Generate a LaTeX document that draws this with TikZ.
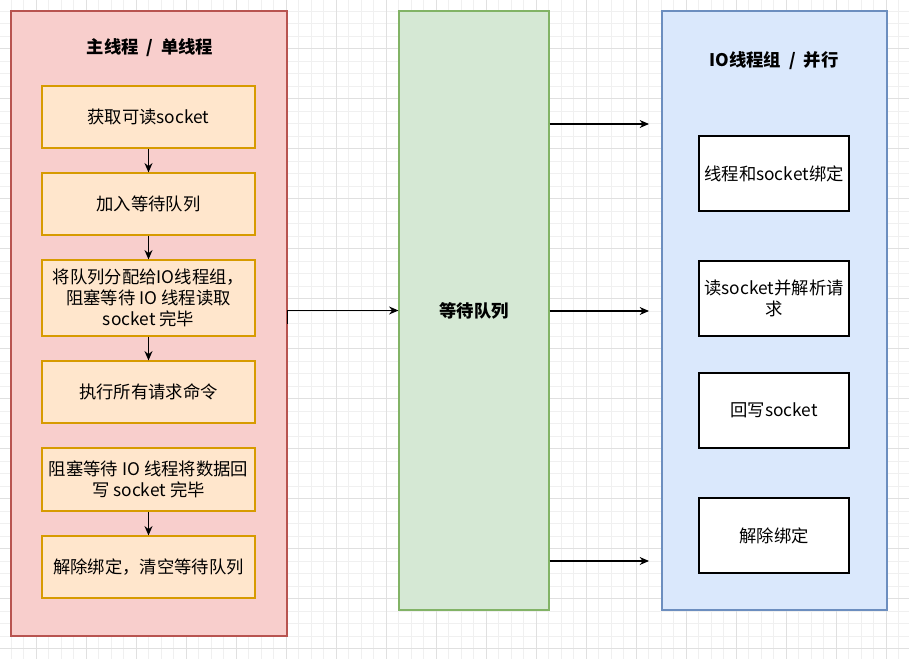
\documentclass[tikz,border=0pt]{standalone}
\usepackage{fontspec}
\setmainfont{Noto Sans CJK SC}
\usetikzlibrary{arrows.meta}
\definecolor{mainfill}{HTML}{F8CECC}
\definecolor{mainline}{HTML}{B85450}
\definecolor{stepfill}{HTML}{FFE6CC}
\definecolor{stepline}{HTML}{D79B00}
\definecolor{queuefill}{HTML}{D5E8D4}
\definecolor{queueline}{HTML}{82B366}
\definecolor{iofill}{HTML}{DAE8FC}
\definecolor{ioline}{HTML}{6C8EBF}
\definecolor{minorgrid}{HTML}{F0F0F0}
\definecolor{majorgrid}{HTML}{E0E0E0}

\begin{document}
\begin{tikzpicture}[x=0.75pt,y=-0.75pt,>={Stealth[length=7pt,width=6pt]},
    every node/.style={font=\fontsize{13}{15.5}\selectfont},
    container/.style={draw,rectangle,inner sep=0pt,line width=0.9pt},
    stepbox/.style={draw=stepline,fill=stepfill,line width=0.9pt,
        minimum width=213*0.75pt,inner sep=0pt,align=center},
    iobox/.style={draw,fill=white,line width=0.9pt,
        minimum width=150*0.75pt,minimum height=75*0.75pt,inner sep=0pt,align=center}]
        \useasboundingbox (0,0) rectangle (909,659);
        % draw the grid
        \foreach \x in {-1.5,11,...,909}
                \draw[minorgrid,line width=0.5pt] (\x,0) -- (\x,659);
        \foreach \y in {-1.5,11,...,659}
                \draw[minorgrid,line width=0.5pt] (0,\y) -- (909,\y);
        \foreach \x in {36.5,86.5,...,909}
                \draw[majorgrid,line width=0.6pt] (\x,0) -- (\x,659);
        \foreach \y in {48.5,98.5,...,659}
                \draw[majorgrid,line width=0.6pt] (0,\y) -- (909,\y);
        % main thread
        \node[container,draw=mainline,fill=mainfill,minimum width=276*0.75pt,
            minimum height=625*0.75pt] (main) at (149,323.5) {};
        \node (maintitle) at (150,48) {\textbf{主线程\ \ /\ \ 单线程}};
        \node[stepbox,minimum height=62*0.75pt] (get) at (148.5,117) {获取可读socket};
        \node[stepbox,minimum height=62*0.75pt] (add) at (148.5,204) {加入等待队列};
        \node[stepbox,minimum height=76*0.75pt] (assign) at (148.5,298)
            {将队列分配给IO线程组，\\阻塞等待 IO 线程读取\\socket 完毕};
        \node[stepbox,minimum height=62*0.75pt] (exec) at (148.5,392) {执行所有请求命令};
        \node[stepbox,minimum height=63*0.75pt] (wait) at (148.5,479.5)
            {阻塞等待 IO 线程将数据回\\写 socket 完毕};
        \node[stepbox,minimum height=62*0.75pt] (clear) at (148.5,567) {解除绑定，清空等待队列};
        \draw[->,line width=0.9pt] (get) -- (add);
        \draw[->,line width=0.9pt] (add) -- (assign);
        \draw[->,line width=0.9pt] (assign) -- (exec);
        \draw[->,line width=0.9pt] (wait) -- (clear);
        % wait queue
        \node[container,draw=queueline,fill=queuefill,minimum width=150*0.75pt,
            minimum height=599*0.75pt] (queue) at (474,310.5) {\textbf{等待队列}};
        \draw[->,line width=0.9pt] (main.east) |- (queue.west);
        % IO threads
        \node[container,draw=ioline,fill=iofill,minimum width=225*0.75pt,
            minimum height=599*0.75pt] (io) at (774.5,310.5) {};
        \node (iotitle) at (774,61) {\textbf{IO线程组\ \ /\ \ 并行}};
        \node[iobox] (bind) at (774,173.5) {线程和socket绑定};
        \node[iobox] (parse) at (774,298.5) {读socket并解析请\\求};
        \node[iobox] (write) at (774,410.5) {回写socket};
        \node[iobox] (unbind) at (774,535.5) {解除绑定};
        \foreach \y/\name in {124/top,311/mid,561/bot} {
                \coordinate (in\name) at (649,\y);
                \draw[->,line width=0.9pt] (queue.east |- in\name) -- (in\name);
                }
\end{tikzpicture}
\end{document}
